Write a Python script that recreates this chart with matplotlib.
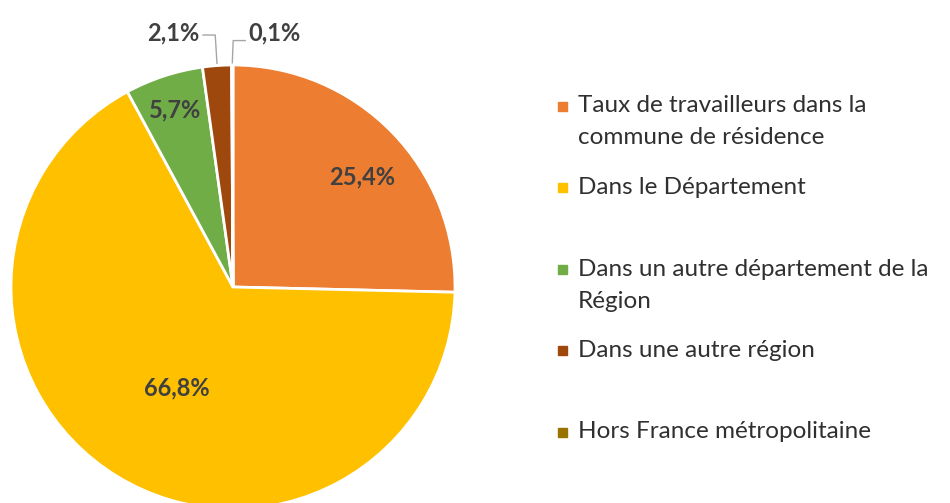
import matplotlib.pyplot as plt
import numpy as np

plt.rcParams['font.family'] = ['Lato', 'DejaVu Sans']

# Data
categories = ["Taux de travailleurs dans la\ncommune de résidence",
              "Dans le Département",
              "Dans un autre département de la\nRégion",
              "Dans une autre région",
              "Hors France métropolitaine"]
values = [25.4, 66.8, 5.7, 2.1, 0.1]
colors = ['#ED7D31', '#FFC000', '#70AD47', '#9E480E', '#997300']

# label placement (data coords of the pie), None -> outside with leader
inside_pos = [(0.58, 0.495), (-0.252, -0.455), (-0.261, 0.797), None, None]
outside_text = {3: (-0.15, 1.145, 'right'), 4: (0.07, 1.145, 'left')}

W, H = 950, 503
fig = plt.figure(figsize=(W / 100, H / 100), dpi=100)
cx, cy, R = 233, 287, 222
ax = fig.add_axes([(cx - R) / W, 1 - (cy + R) / H, 2 * R / W, 2 * R / H])

wedges, _ = ax.pie(values, colors=colors, startangle=90, counterclock=False,
                   radius=1, wedgeprops=dict(edgecolor='white', linewidth=2))
ax.set_xlim(-1, 1)
ax.set_ylim(-1, 1)
ax.set_aspect('equal')
ax.axis('off')

def fmt(v):
    return f"{v:.1f}".replace('.', ',') + '%'

for i, (w, v) in enumerate(zip(wedges, values)):
    mid = np.deg2rad((w.theta1 + w.theta2) / 2)
    if inside_pos[i] is not None:
        px, py = inside_pos[i]
        ax.text(px, py, fmt(v), ha='center', va='center',
                fontsize=17, fontweight='bold', color='#404040')
    else:
        tx, ty, ha = outside_text[i]
        ax0, ay0 = np.cos(mid), np.sin(mid) + 0.01
        ex = ax0 - 0.008 if ha == 'right' else ax0 + 0.004
        ey = ty - 0.01 if ha == 'right' else ty - 0.035
        sx = tx + 0.015 if ha == 'right' else tx - 0.015
        ax.plot([ax0, ex, sx], [ay0, ey, ey], color='#A6A6A6', lw=1, clip_on=False)
        ax.text(tx, ty, fmt(v), ha=ha, va='center', fontsize=17,
                fontweight='bold', color='#404040', clip_on=False)

# Legend drawn manually
leg_x, leg_y0, leg_dy, line_dy = 562, 106, 81.5, 32
for i, (lab, c) in enumerate(zip(categories, colors)):
    y = leg_y0 + i * leg_dy
    fig.patches.append(plt.Rectangle(((leg_x - 4.5) / W, 1 - (y + 4.5) / H), 9 / W, 9 / H,
                                     transform=fig.transFigure, color=c))
    for j, line in enumerate(lab.split('\n')):
        fig.text(578 / W, 1 - (y + j * line_dy) / H, line, ha='left', va='center',
                 fontsize=17.5, color='#303030')

fig.savefig('out.png', dpi=100)
